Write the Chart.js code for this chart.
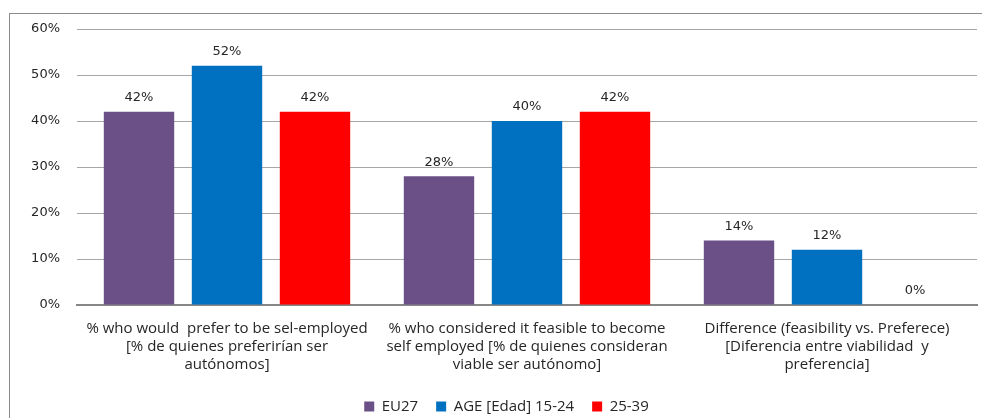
<!DOCTYPE html>
<html>
<head>
<meta charset="utf-8">
<script src="https://cdn.jsdelivr.net/npm/chart.js@4.4.1/dist/chart.umd.min.js"></script>
<style>
  html, body { margin: 0; padding: 0; background: #fff; }
  #wrap { position: relative; width: 982px; height: 418px; overflow: hidden; }
</style>
</head>
<body>
<div id="wrap"><canvas id="barChart" width="982" height="418"></canvas></div>
<script>
// categorias (eje x), una entrada por linea
var categorias = [
    ["% who would  prefer to be sel-employed", "[% de quienes preferirían ser", "autónomos]"],
    ["% who considered it feasible to become", "self employed [% de quienes consideran", "viable ser autónomo]"],
    ["Difference (feasibility vs. Preferece)", "[Diferencia entre viabilidad  y", "preferencia]"]
];
var series = ["EU27", "AGE [Edad] 15-24", "25-39"];
var valoresEU27 = [42, 28, 14];
var valores1524 = [52, 40, 12];
var valores2539 = [42, 42, 0];
var ticksY = [0, 10, 20, 30, 40, 50, 60];

var colores = ["#6a5087", "#0070c0", "#ff0000"];
var fuenteTexto = "'Open Sans', 'Liberation Sans', sans-serif";
var fuenteNum = "'DejaVu Sans', Verdana, sans-serif";

// marco exterior del grafico
var marco = {
    id: 'marco',
    beforeDraw: function (chart) {
        var ctx = chart.ctx;
        ctx.save();
        ctx.strokeStyle = '#8c8c8c';
        ctx.lineWidth = 1;
        ctx.strokeRect(9.5, 13.5, 990, 420);
        ctx.restore();
    }
};

// la leyenda va un poco corrida a la derecha
var moverLeyenda = {
    id: 'moverLeyenda',
    afterLayout: function (chart) {
        chart.legend.left += 18;
        chart.legend.right += 18;
    }
};

// etiquetas de valor encima de cada barra
var etiquetas = {
    id: 'etiquetas',
    afterDatasetsDraw: function (chart) {
        var ctx = chart.ctx;
        ctx.save();
        ctx.font = '13px ' + fuenteNum;
        ctx.fillStyle = '#262626';
        ctx.textAlign = 'center';
        ctx.textBaseline = 'middle';
        chart.data.datasets.forEach(function (ds, i) {
            chart.getDatasetMeta(i).data.forEach(function (bar, j) {
                ctx.fillText(ds.data[j] + '%', bar.x, bar.y - 14);
            });
        });
        ctx.restore();
    }
};

var datos = {
    labels: categorias,
    datasets: [
        { label: series[0], data: valoresEU27, backgroundColor: colores[0] },
        { label: series[1], data: valores1524, backgroundColor: colores[1] },
        { label: series[2], data: valores2539, backgroundColor: colores[2] }
    ]
};

var opciones = {
    responsive: false,
    animation: false,
    layout: { padding: { left: 0, right: 5, top: 29, bottom: -6 } },
    datasets: { bar: { categoryPercentage: 0.88, barPercentage: 0.8 } },
    plugins: {
        tooltip: { enabled: false },
        legend: {
            position: 'bottom',
            labels: {
                boxWidth: 10, boxHeight: 10, padding: 18,
                color: '#262626',
                font: { family: fuenteTexto, size: 15 }
            }
        }
    },
    scales: {
        x: {
            grid: { display: false, drawTicks: false },
            border: { color: '#868686', width: 2 },
            ticks: {
                color: '#262626', padding: 15,
                maxRotation: 0, autoSkip: false,
                font: { family: fuenteTexto, size: 15, lineHeight: 1.2 }
            },
            afterFit: function (s) { s.height = 76; }
        },
        y: {
            min: 0, max: 60,
            afterBuildTicks: function (s) { s.ticks = ticksY.map(function (v) { return { value: v }; }); },
            grid: { color: '#a6a6a6', drawTicks: false },
            border: { display: false },
            ticks: {
                color: '#262626', padding: 17,
                font: { family: fuenteNum, size: 13 },
                callback: function (v) { return v + '%'; }
            },
            afterFit: function (s) { s.width = 77; }
        }
    }
};

var ctx = document.getElementById('barChart').getContext('2d');
new Chart(ctx, { type: 'bar', data: datos, options: opciones, plugins: [marco, moverLeyenda, etiquetas] });
</script>
</body>
</html>
